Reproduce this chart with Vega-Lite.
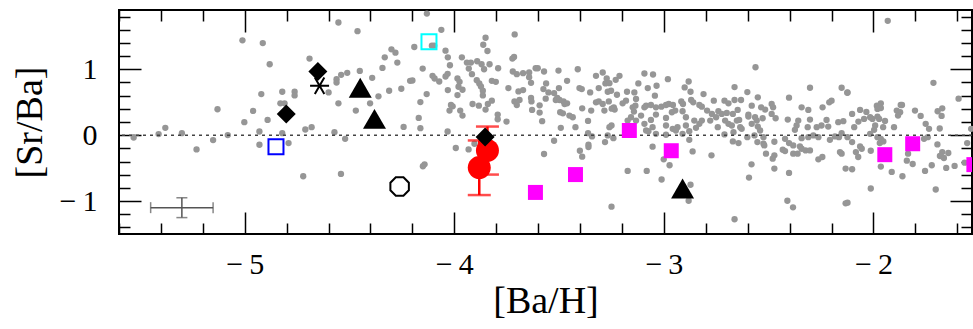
{
  "$schema": "https://vega.github.io/schema/vega-lite/v6.json",
  "width": 853,
  "height": 224,
  "autosize": {"type": "none"},
  "padding": {"left": 119, "top": 10, "right": 1, "bottom": 95},
  "background": "white",
  "config": {
    "view": {"stroke": "black", "strokeWidth": 2},
    "axis": {"domain": false, "grid": false, "tickColor": "black", "tickWidth": 1.5, "labelFont": "Liberation Serif", "labelFontSize": 30, "labelColor": "black", "titleFont": "Liberation Serif", "titleFontSize": 38, "titleFontWeight": "normal", "titleColor": "black", "labelFlush": false, "labelOverlap": false}
  },
  "resolve": {"axis": {"x": "independent", "y": "independent"}},
  "datasets": {
    "gray": [
      {"x":-5.011,"y":1.439},{"x":-4.914,"y":1.398},{"x":-4.921,"y":0.624},{"x":-5.130,"y":0.393},{"x":-4.960,"y":0.368},{"x":-5.002,"y":0.197},{"x":-5.379,"y":0.111},{"x":-5.530,"y":-0.035},{"x":-5.411,"y":0.016},{"x":-5.300,"y":0.031},{"x":-5.230,"y":-0.216},{"x":-5.151,"y":-0.075},{"x":-5.081,"y":0.001},{"x":-4.930,"y":0.056},{"x":-4.930,"y":-0.145},
      {"x":-4.553,"y":1.710},{"x":-4.462,"y":1.579},{"x":-4.881,"y":1.077},{"x":-4.691,"y":1.162},{"x":-4.300,"y":1.303},{"x":-4.281,"y":1.253},{"x":-4.332,"y":1.182},{"x":-4.272,"y":1.102},{"x":-4.343,"y":1.021},{"x":-4.451,"y":0.976},{"x":-4.511,"y":0.946},{"x":-4.540,"y":0.916},{"x":-4.562,"y":0.850},{"x":-4.562,"y":0.800},{"x":-4.392,"y":0.870},{"x":-4.600,"y":0.649},{"x":-4.762,"y":0.659},{"x":-4.762,"y":0.604},{"x":-4.821,"y":0.659},{"x":-4.211,"y":0.825},{"x":-4.253,"y":0.705},{"x":-4.311,"y":0.674},{"x":-4.362,"y":0.589},{"x":-4.553,"y":0.483},{"x":-4.402,"y":0.483},{"x":-4.470,"y":0.373},{"x":-4.830,"y":0.483},{"x":-4.810,"y":0.483},{"x":-4.891,"y":0.232},{"x":-4.242,"y":0.126},{"x":-4.681,"y":0.121},{"x":-4.711,"y":0.086},{"x":-4.821,"y":0.031},{"x":-4.572,"y":0.046},{"x":-4.521,"y":-0.055},{"x":-4.791,"y":-0.120},{"x":-4.721,"y":-0.623},{"x":-4.541,"y":-0.588},
      {"x":-4.131,"y":1.846},{"x":-4.062,"y":1.599},{"x":-4.191,"y":1.338},{"x":-4.107,"y":1.358},{"x":-4.096,"y":1.358},{"x":-4.042,"y":1.283},{"x":-4.031,"y":1.182},{"x":-4.021,"y":1.061},{"x":-4.151,"y":1.011},{"x":-4.200,"y":0.830},{"x":-4.104,"y":0.901},{"x":-4.094,"y":0.860},{"x":-4.072,"y":0.815},{"x":-4.042,"y":0.891},{"x":-4.032,"y":0.931},{"x":-3.964,"y":1.182},{"x":-3.940,"y":1.102},{"x":-3.921,"y":1.102},{"x":-3.931,"y":1.011},{"x":-3.916,"y":0.926},{"x":-3.891,"y":1.122},{"x":-3.870,"y":1.077},{"x":-3.858,"y":1.001},{"x":-3.832,"y":1.077},{"x":-3.791,"y":1.016},{"x":-3.851,"y":1.479},{"x":-3.862,"y":1.373},{"x":-3.842,"y":1.278},{"x":-3.712,"y":1.529},{"x":-3.715,"y":1.187},{"x":-3.723,"y":1.162},{"x":-3.721,"y":0.966},{"x":-3.702,"y":0.926},{"x":-3.672,"y":0.941},{"x":-3.643,"y":0.951},{"x":-3.643,"y":0.881},{"x":-3.612,"y":1.016},{"x":-3.602,"y":1.016},{"x":-3.572,"y":0.966},{"x":-3.634,"y":0.795},{"x":-3.562,"y":0.785},{"x":-3.575,"y":0.699},{"x":-3.551,"y":0.649},{"x":-3.524,"y":0.639},{"x":-3.985,"y":0.860},{"x":-3.975,"y":0.810},{"x":-3.980,"y":0.735},{"x":-3.961,"y":0.689},{"x":-3.985,"y":0.609},{"x":-4.031,"y":0.684},{"x":-4.132,"y":0.624},{"x":-4.162,"y":0.503},{"x":-3.893,"y":0.835},{"x":-3.881,"y":0.785},{"x":-3.873,"y":0.740},{"x":-3.864,"y":0.674},{"x":-3.821,"y":0.825},{"x":-3.802,"y":0.810},{"x":-3.864,"y":0.604},{"x":-3.913,"y":0.473},{"x":-3.883,"y":0.448},{"x":-3.840,"y":0.473},{"x":-3.821,"y":0.524},{"x":-3.851,"y":0.388},{"x":-4.016,"y":0.458},{"x":-4.008,"y":0.438},{"x":-4.023,"y":0.373},{"x":-3.972,"y":0.373},{"x":-3.961,"y":0.297},{"x":-4.170,"y":0.262},{"x":-4.162,"y":0.106},{"x":-4.032,"y":0.056},{"x":-3.793,"y":0.312},{"x":-3.793,"y":0.242},{"x":-3.751,"y":0.207},{"x":-3.742,"y":0.715},{"x":-3.694,"y":0.664},{"x":-3.672,"y":0.684},{"x":-3.713,"y":0.513},{"x":-3.702,"y":0.458},{"x":-3.689,"y":0.534},{"x":-3.634,"y":0.564},{"x":-3.632,"y":0.513},{"x":-3.629,"y":0.383},{"x":-3.593,"y":0.453},{"x":-3.593,"y":0.343},{"x":-3.564,"y":0.554},{"x":-3.516,"y":0.534},{"x":-3.581,"y":0.212},{"x":-3.524,"y":-0.085},{"x":-3.572,"y":-0.286},{"x":-3.993,"y":-0.195},{"x":-3.932,"y":-0.216},{"x":-3.904,"y":-0.130},{"x":-4.142,"y":-0.442},{"x":-4.150,"y":-0.472},
      {"x":-3.503,"y":0.981},{"x":-3.411,"y":1.001},{"x":-3.292,"y":0.951},{"x":-3.324,"y":0.901},{"x":-3.273,"y":0.860},{"x":-3.212,"y":0.901},{"x":-3.230,"y":0.840},{"x":-3.279,"y":0.785},{"x":-3.260,"y":0.790},{"x":-3.462,"y":0.825},{"x":-3.501,"y":0.715},{"x":-3.403,"y":0.715},{"x":-3.392,"y":0.699},{"x":-3.352,"y":0.649},{"x":-3.311,"y":0.715},{"x":-3.268,"y":0.659},{"x":-3.252,"y":0.674},{"x":-3.224,"y":0.614},{"x":-3.176,"y":0.659},{"x":-3.141,"y":0.649},{"x":-3.093,"y":0.936},{"x":-3.052,"y":0.921},{"x":-3.122,"y":0.785},{"x":-3.077,"y":0.715},{"x":-3.035,"y":0.750},{"x":-2.981,"y":0.850},{"x":-2.882,"y":0.815},{"x":-2.901,"y":0.725},{"x":-2.873,"y":0.659},{"x":-3.043,"y":0.599},{"x":-3.133,"y":0.549},{"x":-3.181,"y":0.524},{"x":-3.197,"y":0.483},{"x":-3.324,"y":0.498},{"x":-3.311,"y":0.513},{"x":-3.292,"y":0.473},{"x":-3.263,"y":0.513},{"x":-3.239,"y":0.423},{"x":-3.235,"y":0.388},{"x":-3.509,"y":0.564},{"x":-3.479,"y":0.513},{"x":-3.462,"y":0.483},{"x":-3.498,"y":0.534},{"x":-3.474,"y":0.473},{"x":-3.390,"y":0.408},{"x":-3.347,"y":0.373},{"x":-3.284,"y":0.373},{"x":-3.249,"y":0.403},{"x":-3.149,"y":0.423},{"x":-3.136,"y":0.448},{"x":-3.093,"y":0.423},{"x":-3.085,"y":0.448},{"x":-3.143,"y":0.358},{"x":-3.109,"y":0.297},{"x":-3.062,"y":0.458},{"x":-3.038,"y":0.423},{"x":-3.012,"y":0.433},{"x":-2.990,"y":0.458},{"x":-2.977,"y":0.473},{"x":-2.957,"y":0.458},{"x":-2.917,"y":0.513},{"x":-2.909,"y":0.473},{"x":-2.870,"y":0.534},{"x":-2.860,"y":0.498},{"x":-2.831,"y":0.458},{"x":-3.495,"y":0.348},{"x":-3.482,"y":0.332},{"x":-3.451,"y":0.297},{"x":-3.435,"y":0.272},{"x":-3.157,"y":0.272},{"x":-3.133,"y":0.222},{"x":-3.093,"y":0.172},{"x":-3.062,"y":0.232},{"x":-3.038,"y":0.312},{"x":-2.990,"y":0.262},{"x":-2.962,"y":0.348},{"x":-2.946,"y":0.373},{"x":-2.911,"y":0.363},{"x":-2.895,"y":0.272},{"x":-2.855,"y":0.222},{"x":-2.831,"y":0.172},{"x":-2.990,"y":0.147},{"x":-2.958,"y":0.096},{"x":-2.935,"y":0.121},{"x":-2.895,"y":0.147},{"x":-2.879,"y":0.061},{"x":-2.847,"y":0.111},{"x":-3.362,"y":0.217},{"x":-3.492,"y":0.111},{"x":-3.422,"y":0.121},{"x":-3.362,"y":0.031},{"x":-3.343,"y":-0.019},{"x":-3.268,"y":-0.004},{"x":-3.260,"y":0.121},{"x":-3.250,"y":0.147},{"x":-3.241,"y":-0.045},{"x":-3.281,"y":-0.105},{"x":-3.173,"y":0.222},{"x":-3.085,"y":0.071},{"x":-3.074,"y":0.061},{"x":-3.054,"y":0.121},{"x":-3.038,"y":0.021},{"x":-2.990,"y":0.006},{"x":-2.943,"y":0.071},{"x":-2.911,"y":0.021},{"x":-2.879,"y":-0.070},{"x":-3.054,"y":-0.175},{"x":-3.360,"y":-0.145},{"x":-3.360,"y":-0.180},{"x":-3.401,"y":-0.236},{"x":-3.390,"y":-0.326},{"x":-3.001,"y":-0.366},{"x":-2.973,"y":-0.457},{"x":-2.863,"y":-0.246},{"x":-3.173,"y":-0.542},{"x":-3.082,"y":-0.542},{"x":-3.011,"y":-0.673},{"x":-2.873,"y":-0.753},{"x":-2.882,"y":-0.995},{"x":-3.250,"y":-1.085},
      {"x":-2.563,"y":1.031},{"x":-2.811,"y":0.624},{"x":-2.663,"y":0.730},{"x":-2.602,"y":0.654},{"x":-2.403,"y":0.569},{"x":-2.303,"y":0.720},{"x":-2.152,"y":0.720},{"x":-2.125,"y":0.644},{"x":-2.762,"y":0.524},{"x":-2.711,"y":0.524},{"x":-2.692,"y":0.483},{"x":-2.663,"y":0.534},{"x":-2.632,"y":0.534},{"x":-2.486,"y":0.473},{"x":-2.479,"y":0.423},{"x":-2.552,"y":0.574},{"x":-2.581,"y":0.448},{"x":-2.536,"y":0.423},{"x":-2.517,"y":0.388},{"x":-2.819,"y":0.433},{"x":-2.794,"y":0.373},{"x":-2.771,"y":0.322},{"x":-2.740,"y":0.363},{"x":-2.724,"y":0.322},{"x":-2.751,"y":0.272},{"x":-2.700,"y":0.338},{"x":-2.671,"y":0.322},{"x":-2.648,"y":0.383},{"x":-2.597,"y":0.312},{"x":-2.565,"y":0.272},{"x":-2.557,"y":0.222},{"x":-2.529,"y":0.257},{"x":-2.486,"y":0.322},{"x":-2.467,"y":0.257},{"x":-2.343,"y":0.423},{"x":-2.311,"y":0.383},{"x":-2.243,"y":0.423},{"x":-2.211,"y":0.498},{"x":-2.200,"y":0.524},{"x":-2.819,"y":0.222},{"x":-2.779,"y":0.222},{"x":-2.743,"y":0.121},{"x":-2.708,"y":0.222},{"x":-2.692,"y":0.172},{"x":-2.676,"y":0.147},{"x":-2.652,"y":0.222},{"x":-2.641,"y":0.232},{"x":-2.629,"y":0.096},{"x":-2.636,"y":0.121},{"x":-2.668,"y":0.046},{"x":-2.711,"y":0.011},{"x":-2.597,"y":0.282},{"x":-2.581,"y":0.172},{"x":-2.552,"y":0.131},{"x":-2.541,"y":0.071},{"x":-2.525,"y":-0.030},{"x":-2.568,"y":-0.004},{"x":-2.602,"y":-0.030},{"x":-2.409,"y":0.237},{"x":-2.359,"y":0.222},{"x":-2.367,"y":0.147},{"x":-2.375,"y":0.081},{"x":-2.303,"y":0.237},{"x":-2.314,"y":0.121},{"x":-2.271,"y":0.121},{"x":-2.248,"y":0.147},{"x":-2.224,"y":0.232},{"x":-2.216,"y":0.131},{"x":-2.168,"y":0.197},{"x":-2.144,"y":0.212},{"x":-2.165,"y":-0.030},{"x":-2.184,"y":-0.019},{"x":-2.208,"y":-0.070},{"x":-2.152,"y":0.031},{"x":-2.124,"y":-0.030},{"x":-2.422,"y":-0.055},{"x":-2.343,"y":-0.045},{"x":-2.311,"y":-0.030},{"x":-2.287,"y":-0.004},{"x":-2.263,"y":-0.030},{"x":-2.671,"y":-0.095},{"x":-2.644,"y":-0.120},{"x":-2.554,"y":-0.105},{"x":-2.525,"y":-0.130},{"x":-2.521,"y":-0.155},{"x":-2.473,"y":-0.100},{"x":-2.433,"y":-0.221},{"x":-2.422,"y":-0.241},{"x":-2.403,"y":-0.120},{"x":-2.383,"y":-0.155},{"x":-2.383,"y":-0.281},{"x":-2.362,"y":-0.281},{"x":-2.351,"y":-0.170},{"x":-2.343,"y":-0.206},{"x":-2.324,"y":-0.231},{"x":-2.303,"y":-0.231},{"x":-2.513,"y":-0.281},{"x":-2.473,"y":-0.306},{"x":-2.481,"y":-0.356},{"x":-2.263,"y":-0.366},{"x":-2.244,"y":-0.331},{"x":-2.160,"y":-0.256},{"x":-2.152,"y":-0.281},{"x":-2.773,"y":-0.306},{"x":-2.582,"y":-0.442},{"x":-2.473,"y":-0.507},{"x":-2.403,"y":-0.573},{"x":-2.133,"y":-0.507},{"x":-2.594,"y":-0.643},{"x":-2.411,"y":-0.995},{"x":-2.384,"y":-1.095},{"x":-2.133,"y":-1.035},{"x":-2.663,"y":-1.276},
      {"x":-1.932,"y":1.735},{"x":-2.124,"y":0.649},{"x":-1.714,"y":0.795},{"x":-1.594,"y":0.554},{"x":-2.064,"y":0.383},{"x":-2.034,"y":0.353},{"x":-1.984,"y":0.448},{"x":-1.965,"y":0.483},{"x":-1.981,"y":0.398},{"x":-1.965,"y":0.413},{"x":-1.870,"y":0.458},{"x":-1.864,"y":0.458},{"x":-1.889,"y":0.373},{"x":-1.873,"y":0.348},{"x":-1.883,"y":0.297},{"x":-1.802,"y":0.373},{"x":-1.775,"y":0.292},{"x":-1.694,"y":0.363},{"x":-1.672,"y":0.408},{"x":-1.675,"y":0.292},{"x":-2.102,"y":0.322},{"x":-2.045,"y":0.247},{"x":-2.072,"y":0.207},{"x":-2.092,"y":0.121},{"x":-2.016,"y":0.272},{"x":-2.005,"y":0.247},{"x":-1.981,"y":0.282},{"x":-1.973,"y":0.247},{"x":-1.945,"y":0.217},{"x":-1.992,"y":0.147},{"x":-1.997,"y":0.081},{"x":-1.954,"y":0.121},{"x":-1.902,"y":0.121},{"x":-1.751,"y":0.172},{"x":-1.735,"y":0.096},{"x":-1.684,"y":0.101},{"x":-1.534,"y":0.096},{"x":-2.102,"y":-0.105},{"x":-2.064,"y":-0.170},{"x":-2.056,"y":-0.206},{"x":-2.084,"y":-0.256},{"x":-2.073,"y":-0.331},{"x":-2.013,"y":-0.236},{"x":-1.981,"y":-0.030},{"x":-1.970,"y":-0.120},{"x":-1.953,"y":-0.095},{"x":-1.965,"y":-0.055},{"x":-2.016,"y":0.021},{"x":-1.835,"y":-0.281},{"x":-1.841,"y":-0.387},{"x":-1.813,"y":-0.437},{"x":-1.759,"y":-0.055},{"x":-1.741,"y":-0.030},{"x":-1.695,"y":-0.140},{"x":-1.672,"y":-0.256},{"x":-1.683,"y":-0.316},{"x":-1.664,"y":-0.346},{"x":-1.643,"y":-0.271},{"x":-1.722,"y":-0.457},{"x":-1.754,"y":-0.542},{"x":-1.653,"y":-0.497},{"x":-1.613,"y":-0.467},{"x":-1.553,"y":-0.120},{"x":-1.565,"y":-0.417},{"x":-2.102,"y":-0.517},{"x":-1.965,"y":-0.477},{"x":-1.913,"y":-0.558},{"x":-1.862,"y":-0.623},{"x":-1.703,"y":-0.824},{"x":-2.013,"y":-0.809},{"x":-2.124,"y":-1.025}
    ],
    "sym": [
      {"kind":"bluesq","x":-4.851,"y":-0.175},
      {"kind":"cyansq","x":-4.121,"y":1.418},
      {"kind":"diamond","x":-4.802,"y":0.322},
      {"kind":"diamond","x":-4.651,"y":0.966},
      {"kind":"diamond","x":-3.853,"y":-0.029},
      {"kind":"asterisk","x":-4.643,"y":0.750},
      {"kind":"triangle","x":-4.449,"y":0.720},
      {"kind":"triangle","x":-4.381,"y":0.247},
      {"kind":"triangle","x":-2.911,"y":-0.809},
      {"kind":"octagon","x":-4.261,"y":-0.779},
      {"kind":"red","x":-3.842,"y":-0.231,"lo":-0.598,"hi":0.131},
      {"kind":"red","x":-3.881,"y":-0.492,"lo":-0.909,"hi":-0.080},
      {"kind":"magenta","x":-3.613,"y":-0.869},
      {"kind":"magenta","x":-3.422,"y":-0.598},
      {"kind":"magenta","x":-3.165,"y":0.071},
      {"kind":"magenta","x":-2.965,"y":-0.236},
      {"kind":"magenta","x":-1.946,"y":-0.296},
      {"kind":"magenta","x":-1.813,"y":-0.130},
      {"kind":"magenta","x":-1.521,"y":-0.447}
    ],
    "errsample": [{"x":-5.300,"y":-1.100,"xlo":-5.449,"xhi":-5.151,"ylo":-1.251,"yhi":-0.950}],
    "zero": [{"y":0}]
  },
  "layer": [
    {
      "data": {"name": "gray"},
      "mark": {"type": "circle", "size": 40, "color": "#969696", "opacity": 1},
      "encoding": {
        "x": {"field": "x", "type": "quantitative", "scale": {"domain": [-5.6, -1.53], "nice": false, "zero": false},
          "axis": {"orient": "bottom", "values": [-5.6,-5.4,-5.2,-5,-4.8,-4.6,-4.4,-4.2,-4,-3.8,-3.6,-3.4,-3.2,-3,-2.8,-2.6,-2.4,-2.2,-2,-1.8,-1.6],
            "tickSize": {"condition": {"test": "abs(datum.value-round(datum.value))<0.01", "value": -22}, "value": -11},
            "labelExpr": "abs(datum.value-round(datum.value))<0.01 ? (round(datum.value) < 0 ? '−\u2009' + abs(round(datum.value)) : '' + round(datum.value)) : ''",
            "labelPadding": 37, "title": "[Ba/H]", "titlePadding": -8}},
        "y": {"field": "y", "type": "quantitative", "scale": {"domain": [-1.5, 1.9], "nice": false, "zero": false},
          "axis": {"orient": "left", "values": [-1.4,-1.2,-1,-0.8,-0.6,-0.4,-0.2,0,0.2,0.4,0.6,0.8,1,1.2,1.4,1.6,1.8],
            "tickSize": {"condition": {"test": "abs(datum.value-round(datum.value))<0.01", "value": -22}, "value": -11},
            "labelExpr": "abs(datum.value-round(datum.value))<0.01 ? (round(datum.value) < 0 ? '−\u2009' + abs(round(datum.value)) : '' + round(datum.value)) : ''",
            "labelPadding": 44, "title": "[Sr/Ba]", "titlePadding": 10}}
      }
    },
    {
      "data": {"name": "zero"},
      "mark": {"type": "rule", "color": "#444444", "strokeWidth": 1.5, "strokeDash": [3, 4]},
      "encoding": {"y": {"field": "y", "type": "quantitative", "axis": null}}
    },
    {
      "data": {"name": "errsample"},
      "mark": {"type": "rule", "color": "#555555", "strokeWidth": 1.5},
      "encoding": {"x": {"field": "xlo", "type": "quantitative", "axis": null}, "x2": {"field": "xhi"}, "y": {"field": "y", "type": "quantitative", "axis": null}}
    },
    {
      "data": {"name": "errsample"},
      "mark": {"type": "rule", "color": "#555555", "strokeWidth": 1.5},
      "encoding": {"x": {"field": "x", "type": "quantitative", "axis": null}, "y": {"field": "ylo", "type": "quantitative", "axis": null}, "y2": {"field": "yhi"}}
    },
    {
      "data": {"name": "errsample"},
      "mark": {"type": "tick", "orient": "vertical", "color": "#555555", "size": 11, "thickness": 1.5},
      "encoding": {"x": {"field": "xlo", "type": "quantitative", "axis": null}, "y": {"field": "y", "type": "quantitative", "axis": null}}
    },
    {
      "data": {"name": "errsample"},
      "mark": {"type": "tick", "orient": "vertical", "color": "#555555", "size": 11, "thickness": 1.5},
      "encoding": {"x": {"field": "xhi", "type": "quantitative", "axis": null}, "y": {"field": "y", "type": "quantitative", "axis": null}}
    },
    {
      "data": {"name": "errsample"},
      "mark": {"type": "tick", "orient": "horizontal", "color": "#555555", "size": 11, "thickness": 1.5},
      "encoding": {"x": {"field": "x", "type": "quantitative", "axis": null}, "y": {"field": "ylo", "type": "quantitative", "axis": null}}
    },
    {
      "data": {"name": "errsample"},
      "mark": {"type": "tick", "orient": "horizontal", "color": "#555555", "size": 11, "thickness": 1.5},
      "encoding": {"x": {"field": "x", "type": "quantitative", "axis": null}, "y": {"field": "yhi", "type": "quantitative", "axis": null}}
    },
    {
      "data": {"name": "sym"},
      "transform": [{"filter": "datum.kind === 'red'"}],
      "mark": {"type": "rule", "color": "#ff0000", "strokeWidth": 2.5},
      "encoding": {"x": {"field": "x", "type": "quantitative", "axis": null}, "y": {"field": "lo", "type": "quantitative", "axis": null}, "y2": {"field": "hi"}}
    },
    {
      "data": {"name": "sym"},
      "transform": [{"filter": "datum.kind === 'red'"}],
      "mark": {"type": "tick", "orient": "horizontal", "color": "#ff0000", "size": 23, "thickness": 2.5},
      "encoding": {"x": {"field": "x", "type": "quantitative", "axis": null}, "y": {"field": "lo", "type": "quantitative", "axis": null}}
    },
    {
      "data": {"name": "sym"},
      "transform": [{"filter": "datum.kind === 'red'"}],
      "mark": {"type": "tick", "orient": "horizontal", "color": "#ff0000", "size": 23, "thickness": 2.5},
      "encoding": {"x": {"field": "x", "type": "quantitative", "axis": null}, "y": {"field": "hi", "type": "quantitative", "axis": null}}
    },
    {
      "data": {"name": "sym"},
      "transform": [{"filter": "datum.kind === 'red'"}],
      "mark": {"type": "point", "shape": "circle", "filled": true, "size": 529, "color": "#ff0000", "opacity": 1},
      "encoding": {
        "x": {"field": "x", "type": "quantitative",
          "axis": {"orient": "top", "values": [-5.6,-5.4,-5.2,-5,-4.8,-4.6,-4.4,-4.2,-4,-3.8,-3.6,-3.4,-3.2,-3,-2.8,-2.6,-2.4,-2.2,-2,-1.8,-1.6],
            "tickSize": {"condition": {"test": "abs(datum.value-round(datum.value))<0.01", "value": -22}, "value": -11},
            "labels": false, "title": null}},
        "y": {"field": "y", "type": "quantitative",
          "axis": {"orient": "right", "values": [-1.4,-1.2,-1,-0.8,-0.6,-0.4,-0.2,0,0.2,0.4,0.6,0.8,1,1.2,1.4,1.6,1.8],
            "tickSize": {"condition": {"test": "abs(datum.value-round(datum.value))<0.01", "value": -22}, "value": -11},
            "labels": false, "title": null}}
      }
    },
    {
      "data": {"name": "sym"},
      "transform": [{"filter": "datum.kind === 'magenta'"}],
      "mark": {"type": "point", "shape": "square", "filled": true, "size": 225, "color": "#ff00ff", "opacity": 1, "clip": true},
      "encoding": {"x": {"field": "x", "type": "quantitative", "axis": null}, "y": {"field": "y", "type": "quantitative", "axis": null}}
    },
    {
      "data": {"name": "sym"},
      "transform": [{"filter": "datum.kind === 'diamond'"}],
      "mark": {"type": "point", "shape": "diamond", "filled": true, "size": 361, "color": "#000000", "opacity": 1},
      "encoding": {"x": {"field": "x", "type": "quantitative", "axis": null}, "y": {"field": "y", "type": "quantitative", "axis": null}}
    },
    {
      "data": {"name": "sym"},
      "transform": [{"filter": "datum.kind === 'triangle'"}],
      "mark": {"type": "point", "shape": "triangle-up", "filled": true, "size": 529, "color": "#000000", "opacity": 1},
      "encoding": {"x": {"field": "x", "type": "quantitative", "axis": null}, "y": {"field": "y", "type": "quantitative", "axis": null}}
    },
    {
      "data": {"name": "sym"},
      "transform": [{"filter": "datum.kind === 'asterisk'"}],
      "mark": {"type": "point", "shape": "M-1,0L1,0M-0.5,-0.866L0.5,0.866M-0.5,0.866L0.5,-0.866", "filled": false, "size": 361, "stroke": "#000000", "strokeWidth": 2, "opacity": 1},
      "encoding": {"x": {"field": "x", "type": "quantitative", "axis": null}, "y": {"field": "y", "type": "quantitative", "axis": null}}
    },
    {
      "data": {"name": "sym"},
      "transform": [{"filter": "datum.kind === 'octagon'"}],
      "mark": {"type": "point", "shape": "M0.383,-0.924L0.924,-0.383L0.924,0.383L0.383,0.924L-0.383,0.924L-0.924,0.383L-0.924,-0.383L-0.383,-0.924Z", "filled": false, "size": 400, "stroke": "#000000", "strokeWidth": 2, "opacity": 1},
      "encoding": {"x": {"field": "x", "type": "quantitative", "axis": null}, "y": {"field": "y", "type": "quantitative", "axis": null}}
    },
    {
      "data": {"name": "sym"},
      "transform": [{"filter": "datum.kind === 'bluesq'"}],
      "mark": {"type": "point", "shape": "square", "filled": false, "size": 225, "stroke": "#0000ff", "strokeWidth": 2, "opacity": 1},
      "encoding": {"x": {"field": "x", "type": "quantitative", "axis": null}, "y": {"field": "y", "type": "quantitative", "axis": null}}
    },
    {
      "data": {"name": "sym"},
      "transform": [{"filter": "datum.kind === 'cyansq'"}],
      "mark": {"type": "point", "shape": "square", "filled": false, "size": 225, "stroke": "#00ffff", "strokeWidth": 2, "opacity": 1},
      "encoding": {"x": {"field": "x", "type": "quantitative", "axis": null}, "y": {"field": "y", "type": "quantitative", "axis": null}}
    }
  ]
}
